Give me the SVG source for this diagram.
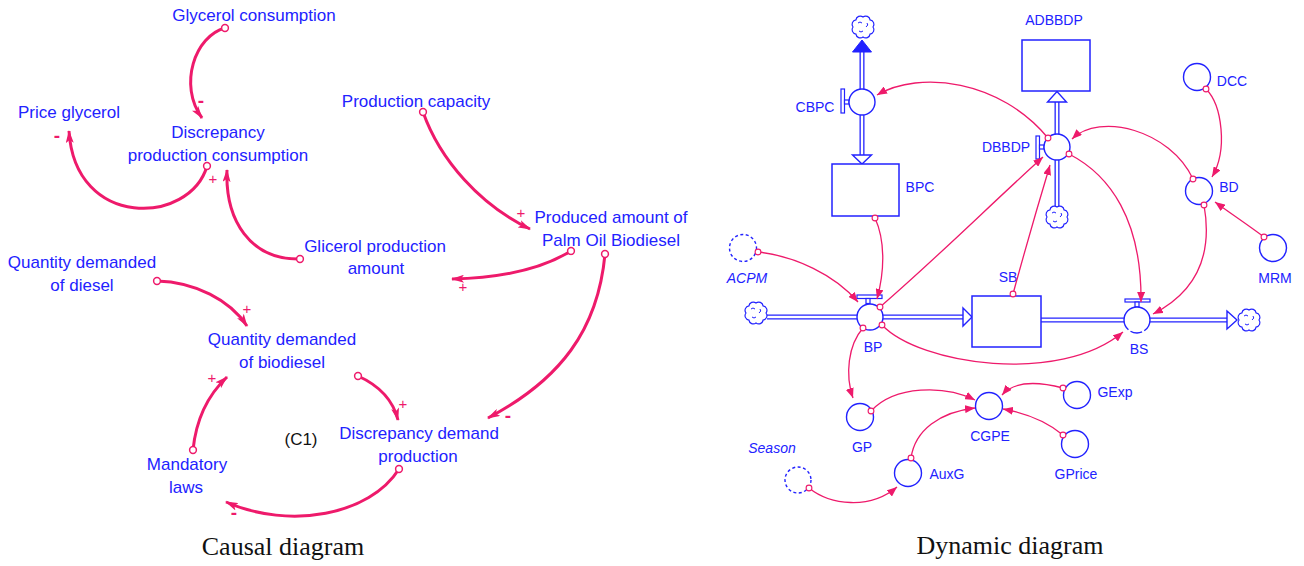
<svg xmlns="http://www.w3.org/2000/svg" xmlns:xlink="http://www.w3.org/1999/xlink" width="1304" height="566" viewBox="0 0 1304 566">
  <defs>
    <style>
      .lt { font-family: "Liberation Sans", Arial, sans-serif; font-size: 17px; fill: #2222ff; text-anchor: middle; }
      .rt { font-family: "Liberation Sans", Arial, sans-serif; font-size: 14px; fill: #2222ff; text-anchor: middle; }
      .it { font-style: italic; }
      .blk { fill: #111111; }
      .cap { font-family: "Liberation Serif", "Times New Roman", serif; font-size: 26px; fill: #111111; text-anchor: middle; }
      .sign { font-family: "Liberation Sans", Arial, sans-serif; font-size: 15px; fill: #ee1a6b; text-anchor: middle; }
      .minus { font-weight: bold; font-size: 19px; }
      .cl { fill: none; stroke: #ee1a6b; stroke-width: 3; marker-start: url(#tailL); marker-end: url(#headL); }
      .dl { fill: none; stroke: #ee1a6b; stroke-width: 1.3; marker-start: url(#tailS); marker-end: url(#headS); }
      .aux { fill: #ffffff; stroke: #2222ff; stroke-width: 1.4; }
      .shadow { fill: none; stroke: #2222ff; stroke-width: 1.4; stroke-dasharray: 3 2.5; }
      .stock { fill: #ffffff; stroke: #2222ff; stroke-width: 1.5; }
      .pipe-o { fill: none; stroke: #2222ff; stroke-width: 5; }
      .pipe-i { fill: none; stroke: #ffffff; stroke-width: 2.4; }
      .hollow { fill: #ffffff; stroke: #2222ff; stroke-width: 1.4; stroke-linejoin: miter; }
      .solid { fill: #2222ff; stroke: #2222ff; stroke-width: 1; }
      .bar { fill: #ffffff; stroke: #2222ff; stroke-width: 1.2; }
      .cloud { fill: #ffffff; stroke: #2222ff; stroke-width: 1.2; }
      .curl { fill: none; stroke: #2222ff; stroke-width: 1; }
    </style>
    <!-- causal link ends -->
    <marker id="headL" viewBox="0 0 13 8" refX="12" refY="4" markerWidth="13" markerHeight="8" orient="auto" markerUnits="userSpaceOnUse">
      <path d="M0,0 L13,4 L0,8 L3,4 z" fill="#ee1a6b"/>
    </marker>
    <marker id="tailL" viewBox="-5 -5 10 10" refX="0" refY="0" markerWidth="10" markerHeight="10" markerUnits="userSpaceOnUse">
      <circle r="3.4" fill="#ffffff" stroke="#ee1a6b" stroke-width="1.5"/>
    </marker>
    <!-- stock-and-flow connector ends -->
    <marker id="headS" viewBox="0 0 10 8" refX="10" refY="4" markerWidth="10" markerHeight="8" orient="auto" markerUnits="userSpaceOnUse">
      <path d="M0,0 L10,4 L0,8 z" fill="#ee1a6b"/>
    </marker>
    <marker id="tailS" viewBox="-4 -4 8 8" refX="0" refY="0" markerWidth="8" markerHeight="8" markerUnits="userSpaceOnUse">
      <circle r="2.9" fill="#ffffff" stroke="#ee1a6b" stroke-width="1.1"/>
    </marker>
    <!-- source / sink cloud -->
    <g id="cloudShape">
      <path class="cloud" d="M10,0 A4.4,4.4 0 0 1 7.07,7.07 A4.4,4.4 0 0 1 0,10 A4.4,4.4 0 0 1 -7.07,7.07 A4.4,4.4 0 0 1 -10,0 A4.4,4.4 0 0 1 -7.07,-7.07 A4.4,4.4 0 0 1 0,-10 A4.4,4.4 0 0 1 7.07,-7.07 A4.4,4.4 0 0 1 10,0 Z"/>
      <path class="curl" d="M-5,-4 q2,-2 4,0 M4,-4 q2,2 -1,4 M-4,4 q2,2 4,0"/>
    </g>
  </defs>

  <rect x="0" y="0" width="1304" height="566" fill="#ffffff"/>

  <!-- ===================== Causal diagram ===================== -->
  <g id="causal">
    <g id="causal-links">
      <path class="cl" d="M225,28 C195,36 178,85 202,118"/>
      <path class="cl" d="M207,166 C190,225 75,230 69,131"/>
      <path class="cl" d="M300,259 C250,260 225,220 227,170"/>
      <path class="cl" d="M423,112 C440,160 480,205 530,229"/>
      <path class="cl" d="M571,251 C540,270 500,278 452,279"/>
      <path class="cl" d="M605,254 C598,330 560,380 488,418"/>
      <path class="cl" d="M157,281 C195,282 230,300 247,326"/>
      <path class="cl" d="M193,450 C196,420 208,395 227,377"/>
      <path class="cl" d="M358,376 C378,385 393,400 398,420"/>
      <path class="cl" d="M399,469 C370,515 290,530 226,502"/>
    </g>
    <g id="causal-signs">
      <text class="sign minus" x="201" y="107">-</text>
      <text class="sign minus" x="57" y="142">-</text>
      <text class="sign" x="213" y="184">+</text>
      <text class="sign" x="521" y="218">+</text>
      <text class="sign" x="463" y="292">+</text>
      <text class="sign minus" x="508" y="422">-</text>
      <text class="sign" x="247" y="314">+</text>
      <text class="sign" x="212" y="383">+</text>
      <text class="sign" x="403" y="409">+</text>
      <text class="sign minus" x="234" y="519">-</text>
    </g>
    <g id="glycerol-consumption"><text class="lt" x="254" y="21">Glycerol consumption</text></g>
    <g id="price-glycerol"><text class="lt" x="69" y="118">Price glycerol</text></g>
    <g id="discrepancy-production-consumption">
      <text class="lt" x="218" y="138">Discrepancy</text>
      <text class="lt" x="218" y="161">production consumption</text>
    </g>
    <g id="glicerol-production-amount">
      <text class="lt" x="375" y="252">Glicerol production</text>
      <text class="lt" x="376" y="274">amount</text>
    </g>
    <g id="production-capacity"><text class="lt" x="416" y="107">Production capacity</text></g>
    <g id="produced-amount">
      <text class="lt" x="611" y="223">Produced amount of</text>
      <text class="lt" x="611" y="246">Palm Oil Biodiesel</text>
    </g>
    <g id="quantity-diesel">
      <text class="lt" x="82" y="268">Quantity demanded</text>
      <text class="lt" x="82" y="291">of diesel</text>
    </g>
    <g id="quantity-biodiesel">
      <text class="lt" x="282" y="345">Quantity demanded</text>
      <text class="lt" x="282" y="368">of biodiesel</text>
    </g>
    <g id="discrepancy-demand-production">
      <text class="lt" x="419" y="439">Discrepancy demand</text>
      <text class="lt" x="418" y="462">production</text>
    </g>
    <g id="mandatory-laws">
      <text class="lt" x="187" y="470">Mandatory</text>
      <text class="lt" x="186" y="493">laws</text>
    </g>
    <g id="loop-c1"><text class="lt blk" x="301" y="445">(C1)</text></g>
    <text class="cap" x="283" y="555">Causal diagram</text>
  </g>

  <!-- ===================== Stock and flow diagram ===================== -->
  <g id="dynamic">
    <g id="flows">
      <!-- CBPC bi-flow -->
      <line class="pipe-o" x1="862" y1="50" x2="862" y2="156"/>
      <line class="pipe-i" x1="862" y1="50" x2="862" y2="156"/>
      <path class="solid" d="M862,40 L871.5,52 L852.5,52 z"/>
      <path class="hollow" d="M852.5,155 L871.5,155 L862,164 z"/>
      <!-- DBBDP flow -->
      <line class="pipe-o" x1="1057" y1="206" x2="1057" y2="101"/>
      <line class="pipe-i" x1="1057" y1="206" x2="1057" y2="101"/>
      <path class="hollow" d="M1047.5,102 L1066.5,102 L1057,91.5 z"/>
      <!-- BP flow -->
      <line class="pipe-o" x1="767" y1="317" x2="964" y2="317"/>
      <line class="pipe-i" x1="767" y1="317" x2="964" y2="317"/>
      <path class="hollow" d="M963,308 L972,317 L963,326 z"/>
      <!-- BS flow -->
      <line class="pipe-o" x1="1041" y1="320" x2="1228" y2="320"/>
      <line class="pipe-i" x1="1041" y1="320" x2="1228" y2="320"/>
      <path class="hollow" d="M1227,311 L1237,320 L1227,329 z"/>
    </g>

    <g id="cloud-top"><use xlink:href="#cloudShape" transform="translate(863,27)"/></g>
    <g id="cloud-dbbdp"><use xlink:href="#cloudShape" transform="translate(1057,217)"/></g>
    <g id="cloud-source"><use xlink:href="#cloudShape" transform="translate(756,313)"/></g>
    <g id="cloud-sink"><use xlink:href="#cloudShape" transform="translate(1249,320)"/></g>

    <g id="ADBBDP">
      <rect class="stock" x="1022" y="40" width="68" height="51"/>
      <text class="rt" x="1054" y="25">ADBBDP</text>
    </g>
    <g id="BPC">
      <rect class="stock" x="832" y="164" width="67" height="52"/>
      <text class="rt" x="920" y="192">BPC</text>
    </g>
    <g id="SB">
      <rect class="stock" x="972" y="296" width="69" height="51"/>
      <text class="rt" x="1008" y="282">SB</text>
    </g>

    <g id="CBPC">
      <rect class="bar" x="841" y="89" width="3.5" height="24"/>
      <rect class="bar" x="844.5" y="100" width="4.5" height="4"/>
      <circle class="aux" cx="862" cy="102" r="13"/>
      <text class="rt" x="815" y="112">CBPC</text>
    </g>
    <g id="DBBDP">
      <rect class="bar" x="1036" y="136" width="3.5" height="23"/>
      <rect class="bar" x="1039.5" y="145" width="4.5" height="4"/>
      <circle class="aux" cx="1057" cy="147" r="13"/>
      <text class="rt" x="1006" y="152">DBBDP</text>
    </g>
    <g id="BP">
      <rect class="bar" x="857" y="295" width="25" height="3.5"/>
      <rect class="bar" x="866" y="298.5" width="4" height="5"/>
      <circle class="aux" cx="870" cy="317" r="13"/>
      <text class="rt" x="873" y="352">BP</text>
    </g>
    <g id="BS">
      <rect class="bar" x="1125" y="299" width="25" height="3"/>
      <rect class="bar" x="1135" y="302" width="4" height="5"/>
      <circle class="aux" cx="1137" cy="320" r="13" stroke-dasharray="12.6 2.5 12 2.5 60"/>
      <text class="rt" x="1139" y="354">BS</text>
    </g>
    <g id="DCC">
      <circle class="aux" cx="1197" cy="77" r="13.5"/>
      <text class="rt" x="1232" y="86">DCC</text>
    </g>
    <g id="BD">
      <circle class="aux" cx="1199" cy="191" r="13.5"/>
      <text class="rt" x="1229" y="192">BD</text>
    </g>
    <g id="MRM">
      <circle class="aux" cx="1273" cy="248" r="13.5"/>
      <text class="rt" x="1275" y="283">MRM</text>
    </g>
    <g id="ACPM">
      <circle class="shadow" cx="743" cy="248" r="13.5"/>
      <text class="rt it" x="747" y="283">ACPM</text>
    </g>
    <g id="GP">
      <circle class="aux" cx="860" cy="417" r="13.5"/>
      <text class="rt" x="862" y="452">GP</text>
    </g>
    <g id="CGPE">
      <circle class="aux" cx="989" cy="406" r="13.5"/>
      <text class="rt" x="990" y="441">CGPE</text>
    </g>
    <g id="GExp">
      <circle class="aux" cx="1077" cy="395" r="13.5"/>
      <text class="rt" x="1115" y="397">GExp</text>
    </g>
    <g id="GPrice">
      <circle class="aux" cx="1075" cy="444" r="13.5"/>
      <text class="rt" x="1076" y="479">GPrice</text>
    </g>
    <g id="AuxG">
      <circle class="aux" cx="908" cy="473" r="13.5"/>
      <text class="rt" x="947" y="479">AuxG</text>
    </g>
    <g id="Season">
      <circle class="shadow" cx="798" cy="480" r="13"/>
      <text class="rt it" x="772" y="453">Season</text>
    </g>

    <g id="connectors">
      <path class="dl" d="M1048,138 C1000,80 920,70 877,95"/>
      <path class="dl" d="M1193,179 C1170,130 1100,112 1072,139"/>
      <path class="dl" d="M1206,89 C1222,105 1228,150 1212,177"/>
      <path class="dl" d="M1264,237 C1248,225 1230,213 1215,202"/>
      <path class="dl" d="M1204,205 C1212,250 1200,290 1153,314"/>
      <path class="dl" d="M1069,154 C1110,175 1142,220 1141,302"/>
      <path class="dl" d="M758,252 C795,256 835,275 858,302"/>
      <path class="dl" d="M875,218 C885,240 885,270 877,299"/>
      <path class="dl" d="M880,307 C940,255 990,205 1043,157"/>
      <path class="dl" d="M1013,294 C1025,250 1038,205 1050,165"/>
      <path class="dl" d="M882,325 C920,365 1060,385 1123,332"/>
      <path class="dl" d="M863,328 C848,345 845,375 853,398"/>
      <path class="dl" d="M871,411 C895,385 945,385 975,400"/>
      <path class="dl" d="M911,458 C915,430 940,412 975,408"/>
      <path class="dl" d="M809,488 C830,505 870,510 897,487"/>
      <path class="dl" d="M1063,388 C1040,382 1015,380 1002,395"/>
      <path class="dl" d="M1063,435 C1045,420 1025,413 1003,409"/>
    </g>
    <text class="cap" x="1010" y="554">Dynamic diagram</text>
  </g>
</svg>
